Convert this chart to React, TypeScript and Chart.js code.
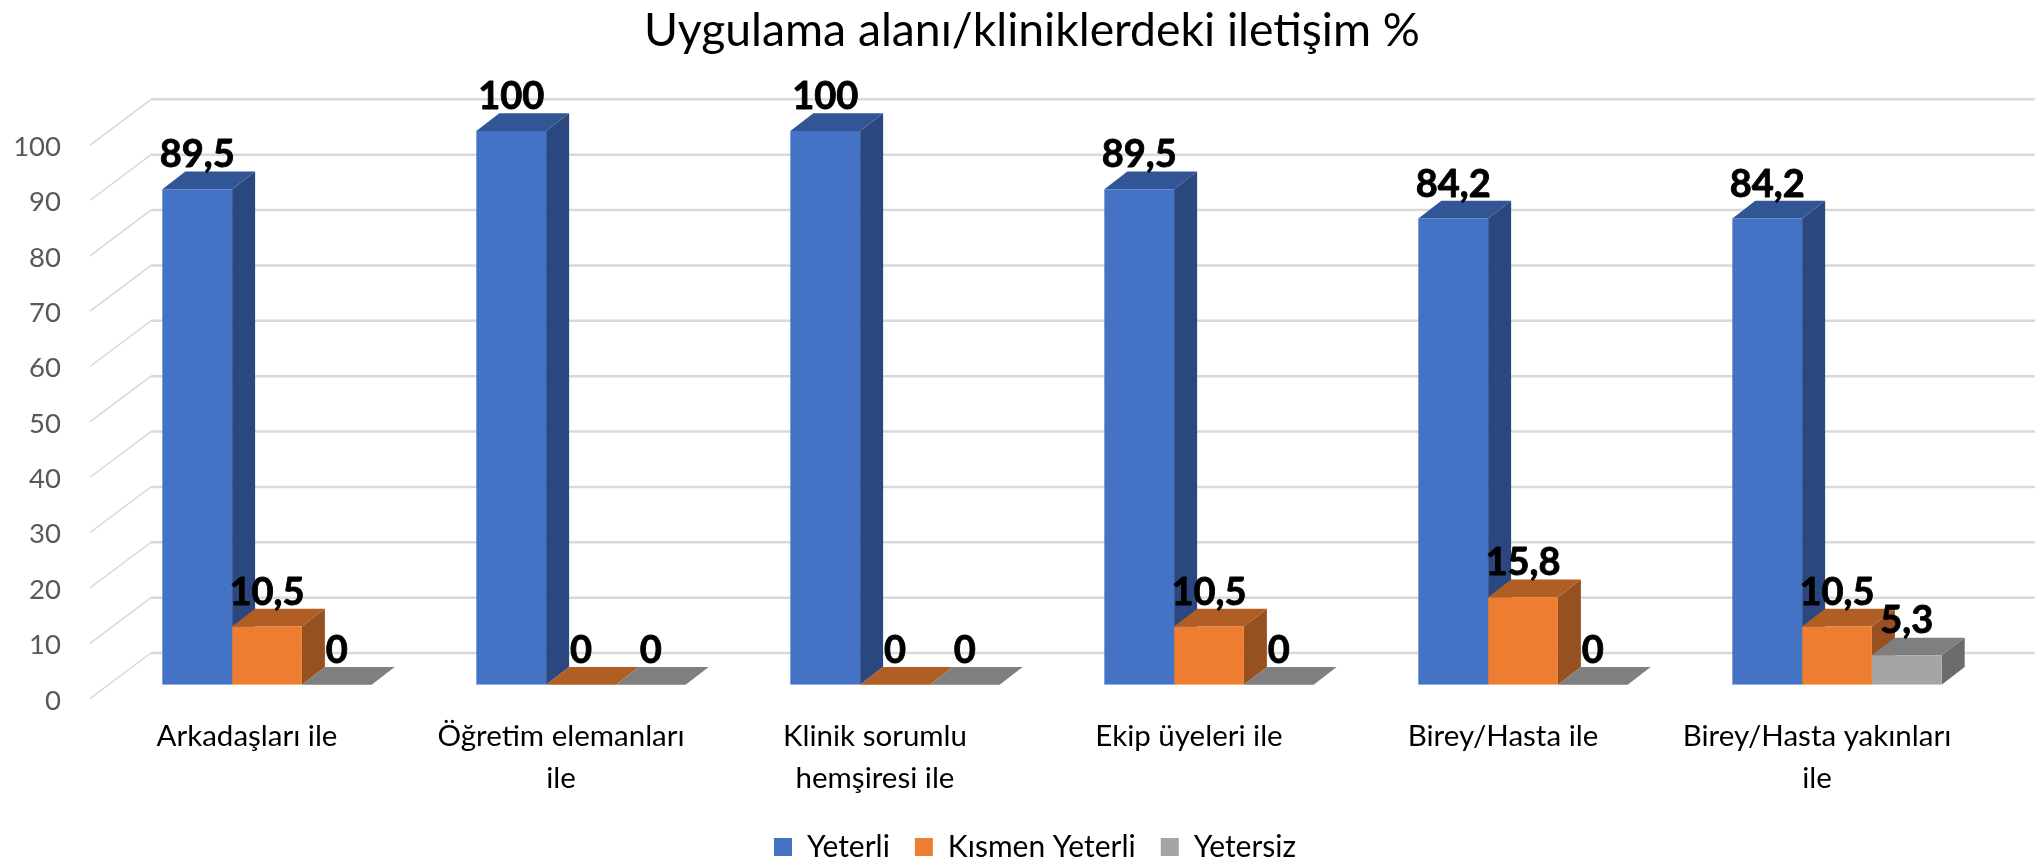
import React, { useEffect, useRef } from "react";
import { Chart, registerables } from "chart.js";

Chart.register(...registerables);

const titleText = "Uygulama alanı/kliniklerdeki iletişim %";
const categories = [
  "Arkadaşları ile",
  ["Öğretim elemanları", "ile"],
  ["Klinik sorumlu", "hemşiresi ile"],
  "Ekip üyeleri ile",
  "Birey/Hasta ile",
  ["Birey/Hasta yakınları", "ile"],
];
const yeterli = [89.5, 100, 100, 89.5, 84.2, 84.2];
const kismenYeterli = [10.5, 0, 0, 10.5, 15.8, 10.5];
const yetersiz = [0, 0, 0, 0, 0, 5.3];
const seriesNames = ["Yeterli", "Kısmen Yeterli", "Yetersiz"];
const frontColors = ["#4472C4", "#ED7D31", "#A5A5A5"];
const topColors = ["#325596", "#B15E24", "#7F7F7F"];
const sideColors = ["#2A4780", "#97501F", "#6B6B6B"];

const FONT = "Lato, Carlito, Calibri, sans-serif";
const BAR_DX = 23;
const BAR_DY = 17.7;
const WALL_LEFT = 151;
const FRONT_LEFT = 90;
const WALL_RISE = 31.7;
const FRONT_DROP = 14;
const BASE_Y = 684.7;

const poly = (ctx: CanvasRenderingContext2D, pts: number[][], color: string) => {
  ctx.beginPath();
  pts.forEach(([x, y], i) => (i ? ctx.lineTo(x, y) : ctx.moveTo(x, y)));
  ctx.closePath();
  ctx.fillStyle = color;
  ctx.fill();
};

const depthPlugin = {
  id: "depth3d",
  afterLayout(chart: any) {
    chart.titleBlock.left += 35;
    chart.titleBlock.right += 35;
    chart.legend.left += 38;
    chart.legend.right += 38;
    chart.legend.top += 12;
    chart.legend.bottom += 12;
  },
  beforeDatasetsDraw(chart: any) {
    const { ctx, scales } = chart;
    const y = scales.y;
    ctx.save();
    ctx.strokeStyle = "#D9D9D9";
    y.ticks.forEach((t: any) => {
      const p = y.getPixelForValue(t.value);
      ctx.lineWidth = 1.5;
      ctx.beginPath();
      ctx.moveTo(FRONT_LEFT, p + FRONT_DROP);
      ctx.lineTo(WALL_LEFT, p - WALL_RISE);
      ctx.stroke();
      ctx.lineWidth = 2.5;
      ctx.beginPath();
      ctx.moveTo(WALL_LEFT, p - WALL_RISE);
      ctx.lineTo(chart.width, p - WALL_RISE);
      ctx.stroke();
    });
    const groups = categories.length;
    for (let g = 0; g < groups; g++) {
      for (let d = 0; d < chart.data.datasets.length; d++) {
        const b = chart.getDatasetMeta(d).data[g];
        const l = b.x - b.width / 2;
        const r = b.x + b.width / 2;
        const top = b.y;
        const base = b.base;
        poly(ctx, [[r, top], [r + BAR_DX, top - BAR_DY], [r + BAR_DX, base - BAR_DY], [r, base]], sideColors[d]);
        poly(ctx, [[l, top], [l + BAR_DX, top - BAR_DY], [r + BAR_DX, top - BAR_DY], [r, top]], topColors[d]);
      }
    }
    ctx.restore();
  },
  afterDatasetsDraw(chart: any) {
    const { ctx } = chart;
    ctx.save();
    ctx.font = `bold 38px ${FONT}`;
    ctx.fillStyle = "#000000";
    ctx.strokeStyle = "#000000";
    ctx.lineWidth = 0.9;
    ctx.lineJoin = "round";
    ctx.textAlign = "center";
    ctx.textBaseline = "alphabetic";
    chart.data.datasets.forEach((ds: any, d: number) => {
      chart.getDatasetMeta(d).data.forEach((b: any, i: number) => {
        const text = String(ds.data[i]).replace(".", ",");
        ctx.fillText(text, b.x, b.y - 22);
        ctx.strokeText(text, b.x, b.y - 22);
      });
    });
    ctx.restore();
  },
};

export default function App() {
  const ref = useRef<HTMLCanvasElement | null>(null);
  useEffect(() => {
    if (!ref.current) return;
    const chart = new Chart(ref.current, {
      type: "bar",
      data: {
        labels: categories as any,
        datasets: [yeterli, kismenYeterli, yetersiz].map((data, i) => ({
          label: seriesNames[i],
          data,
          backgroundColor: frontColors[i],
          borderWidth: 0,
          barPercentage: 1,
          categoryPercentage: 2 / 3,
        })),
      },
      options: {
        responsive: false,
        animation: false,
        layout: { padding: { right: 41 } },
        plugins: {
          tooltip: { enabled: false },
          title: {
            display: true,
            text: titleText,
            color: "#000000",
            font: { family: FONT, size: 46.3, weight: "normal" },
            padding: { top: 3, bottom: 72.5 },
          },
          legend: {
            position: "bottom",
            labels: {
              color: "#000000",
              font: { family: FONT, size: 30 },
              boxWidth: 18,
              boxHeight: 18,
              padding: 25,
            },
          },
        },
        scales: {
          x: {
            grid: { display: false, drawTicks: false },
            border: { display: false },
            afterFit(scale: any) {
              scale.height = 860 - BASE_Y - scale.chart.legend.height;
            },
            ticks: {
              color: "#000000",
              autoSkip: false,
              maxRotation: 0,
              minRotation: 0,
              padding: 31,
              labelOffset: -20,
              font: { family: FONT, size: 29.5, lineHeight: 1.42 },
            },
          },
          y: {
            min: 0,
            max: 100,
            grid: { display: false, drawTicks: false },
            border: { display: false },
            afterFit(scale: any) {
              scale.width = 110;
            },
            ticks: {
              color: "#595959",
              stepSize: 10,
              padding: 49,
              labelOffset: 16,
              font: { family: FONT, size: 27.5 },
            },
          },
        },
      },
      plugins: [depthPlugin],
    } as any);
    return () => chart.destroy();
  }, []);
  return (
    <div style={{ position: "absolute", left: 0, top: 0, width: 2035, height: 860, background: "#fff" }}>
      <canvas ref={ref} width={2035} height={860} style={{ display: "block" }} />
    </div>
  );
}
